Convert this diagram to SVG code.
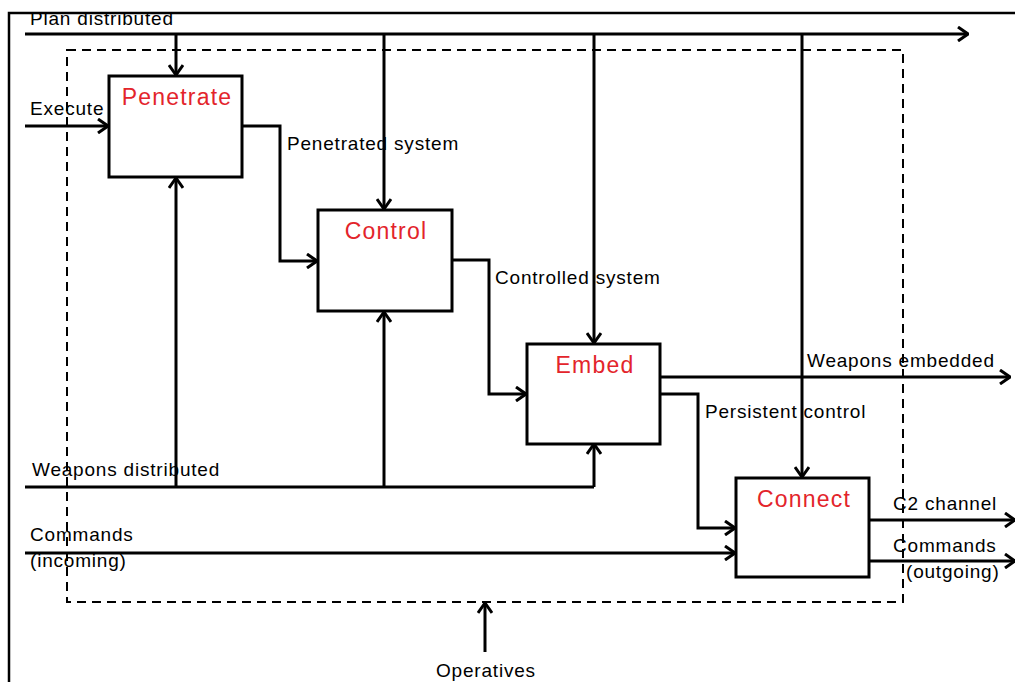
<svg xmlns="http://www.w3.org/2000/svg" width="1015" height="682" viewBox="0 0 1015 682">
  <defs>
    <marker id="arrow" viewBox="0 0 12 16" refX="11" refY="8" markerWidth="12" markerHeight="16" markerUnits="userSpaceOnUse" orient="auto">
      <path d="M1,1 L11,8 L1,15" fill="none" stroke="#000" stroke-width="3"/>
    </marker>
    <clipPath id="frameClip">
      <rect x="0" y="13" width="1015" height="669"/>
    </clipPath>
    <style>
      .frame { fill: none; stroke: #000; stroke-width: 2.5; }
      .boundary { fill: none; stroke: #000; stroke-width: 2; stroke-dasharray: 9 6; }
      .box rect { fill: #fff; stroke: #000; stroke-width: 3; }
      .title { font-family: "Liberation Sans", Arial, sans-serif; font-size: 23px; fill: #e3242b; text-anchor: middle; letter-spacing: 1.2px; }
      .wire { fill: none; stroke: #000; stroke-width: 3; }
      .arr { marker-end: url(#arrow); }
      .label { font-family: "Liberation Sans", Arial, sans-serif; font-size: 19px; fill: #000; letter-spacing: 0.8px; }
    </style>
  </defs>

  <rect width="1015" height="682" fill="#fff"/>

  <!-- outer frame -->
  <path class="frame" d="M9,682 V13 H1015"/>

  <!-- system boundary -->
  <rect class="boundary" x="67" y="50" width="836" height="552"/>

  <!-- connectors -->
  <g id="connectors">
    <!-- plan distributed bus with drops -->
    <path class="wire arr" d="M25,34 H968"/>
    <path class="wire arr" d="M176,34 V75"/>
    <path class="wire arr" d="M384,34 V209"/>
    <path class="wire arr" d="M594,34 V343"/>
    <path class="wire arr" d="M802,34 V477"/>
    <!-- execute -->
    <path class="wire arr" d="M25,126 H108"/>
    <!-- penetrated system -->
    <path class="wire arr" d="M243,126 H280 V261 H317"/>
    <!-- controlled system -->
    <path class="wire arr" d="M452,260 H489 V394 H526"/>
    <!-- weapons embedded -->
    <path class="wire arr" d="M661,377 H1010"/>
    <!-- persistent control -->
    <path class="wire arr" d="M661,394 H698 V528 H735"/>
    <!-- weapons distributed with risers -->
    <path class="wire" d="M25,487 H594"/>
    <path class="wire arr" d="M176,487 V178"/>
    <path class="wire arr" d="M384,487 V312"/>
    <path class="wire arr" d="M594,487 V444"/>
    <!-- commands incoming -->
    <path class="wire arr" d="M25,553 H735"/>
    <!-- outputs of connect -->
    <path class="wire arr" d="M869,520 H1015"/>
    <path class="wire arr" d="M869,561 H1015"/>
    <!-- operatives -->
    <path class="wire arr" d="M485,652 V603"/>
  </g>

  <!-- nodes -->
  <g id="penetrate" class="box">
    <rect x="109" y="76" width="133" height="101"/>
    <text class="title" x="177" y="105">Penetrate</text>
  </g>
  <g id="control" class="box">
    <rect x="318" y="210" width="134" height="101"/>
    <text class="title" x="386" y="239">Control</text>
  </g>
  <g id="embed" class="box">
    <rect x="527" y="344" width="133" height="100"/>
    <text class="title" x="595" y="373">Embed</text>
  </g>
  <g id="connect" class="box">
    <rect x="736" y="478" width="133" height="99"/>
    <text class="title" x="804" y="507">Connect</text>
  </g>

  <!-- labels -->
  <g id="labels">
    <text class="label" x="30" y="25" clip-path="url(#frameClip)">Plan distributed</text>
    <text class="label" x="30" y="115">Execute</text>
    <text class="label" x="287" y="150">Penetrated system</text>
    <text class="label" x="495" y="284">Controlled system</text>
    <text class="label" x="807" y="367">Weapons embedded</text>
    <text class="label" x="705" y="418">Persistent control</text>
    <text class="label" x="32" y="476">Weapons distributed</text>
    <text class="label" x="30" y="541">Commands</text>
    <text class="label" x="30" y="567">(incoming)</text>
    <text class="label" x="893" y="510">C2 channel</text>
    <text class="label" x="893" y="552">Commands</text>
    <text class="label" x="906" y="578">(outgoing)</text>
    <text class="label" x="436" y="677">Operatives</text>
  </g>
</svg>
